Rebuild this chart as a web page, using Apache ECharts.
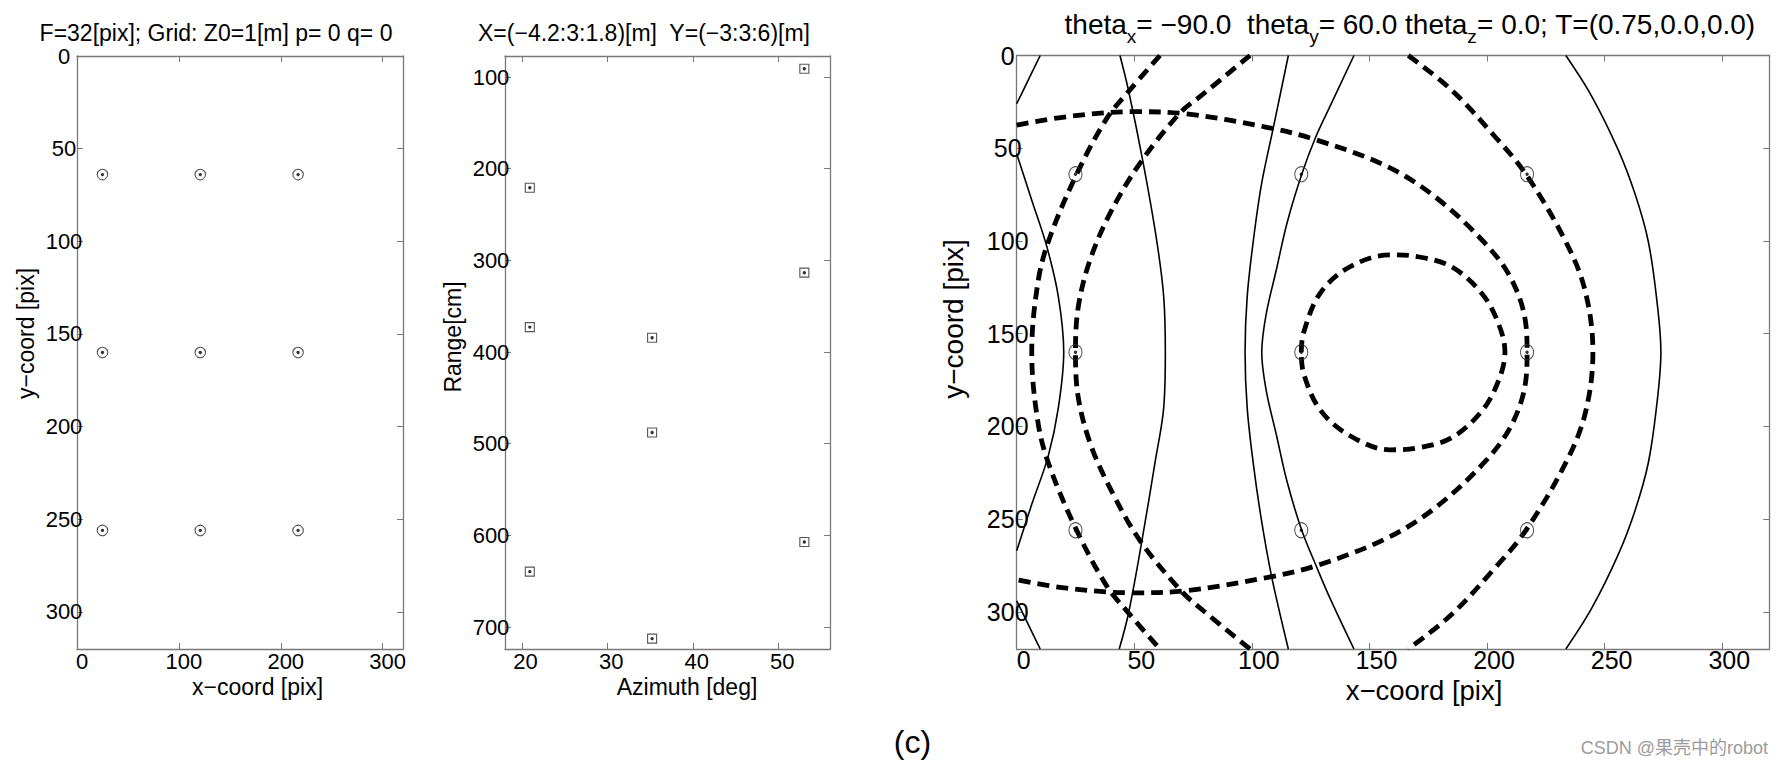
<!DOCTYPE html>
<html><head><meta charset="utf-8">
<script src="https://cdn.jsdelivr.net/npm/echarts@6/dist/echarts.min.js"></script>
<style>html,body{margin:0;padding:0;background:#fff}#c{width:1785px;height:767px}</style>
</head><body><div id="c"></div>
<script>
// ---------------- data ----------------
// panel 1 / panel 3: image grid points (pixel coordinates)
const gridPixX = [25, 121, 217];
const gridPixY = [64, 160, 256];
// panel 2: range / azimuth of the same grid points
const azimuthDeg = [53.0, 20.9, 53.0, 20.9, 35.2, 35.2, 53.0, 20.9, 35.2];
const rangeCm    = [90.9, 220.7, 313.4, 372.8, 384.4, 487.8, 607.3, 639.6, 712.7];

// tick values
const pixTicksX   = [0, 100, 200, 300];
const pixTicksY   = [0, 50, 100, 150, 200, 250, 300];
const azTicks     = [20, 30, 40, 50];
const rangeTicks  = [100, 200, 300, 400, 500, 600, 700];
const projTicks   = [0, 50, 100, 150, 200, 250, 300];

// panel 3: projected grid lines (solid thin)
const solid1 = [[10,0],[5,13],[0,26]];
const solid2 = [[0,53],[6.4,78],[12.8,103],[17.7,130],[20,160],[17.7,190],[13.4,216],[6.4,242],[0,267]];
const solid3 = [[0,294],[5,307],[10,320]];
const solid4 = [[43.9,0],[47.5,18.6],[53.8,58],[59.5,99.5],[62.5,130],[63.2,160],[62.5,190],[59,218],[53.2,262],[47.5,301],[43.6,320]];
const solid5 = [[115.5,0],[109.1,39],[104,70],[100.6,100],[98,130],[97.1,160],[98,190],[100.6,220],[104,250],[108.4,281],[115.5,320]];
const solid6 = [[143.4,0],[133,28],[126.8,45],[121.2,64],[115,90],[110.5,115],[106,140],[104.2,160],[106,180],[110.5,205],[115,230],[121.2,256],[127.6,276],[133,292],[143.4,320]];
const solid7 = [[233.5,0],[244.5,22],[255.8,51],[263,75],[268.5,100],[272,130],[273.9,160],[272,190],[268.5,220],[263,245],[255.8,269],[244.5,298],[233.5,320]];
// panel 3: projected circles (thick dashed)
const dashed1 = [[0,37.5],[21.3,33],[49.6,30.3],[72.3,31.5],[106.3,38.7],[127.6,45.6],[157,59.5],[177.8,76.1],[199.1,101.2],[210.5,121],[216.5,145],[217,160],[216.5,175],[210.5,199],[199.1,219],[177.8,244],[157,260.5],[127.6,275],[106.3,281.5],[72.3,288.5],[49.6,289.7],[21.3,287.2],[0,282.7]];
const dashed2 = [[166.5,0],[184.9,18.6],[203.4,43.8],[216.5,64],[233.1,99.5],[241.6,126.4],[245,160],[241.6,193.6],[233.1,220.5],[216.5,256],[203.4,276.2],[184.9,301.4],[166.5,320]];
const dashed3 = [[121,160],[121.9,149.8],[129,128.2],[141.7,113.9],[158.7,107.5],[170.7,108.5],[184.9,113.9],[197.7,128.2],[204.8,144.4],[207.6,160],[204.8,175.6],[197.7,191.8],[184.9,206.1],[170.7,211.5],[158.7,212.6],[141.7,205],[129,191],[121.9,171],[121,160]];
const dashed4 = [[60.9,0],[47.5,19.5],[38.3,33.9],[25.5,64],[14.2,97.7],[9.2,121],[6.4,160],[9.2,199],[14.2,222.3],[25.5,256],[38.3,286.1],[47.5,300.5],[60.9,320]];
const dashed5 = [[99.2,0],[77.9,22.2],[69.4,31],[52.4,58.1],[39.7,85.1],[31.2,110.2],[26.2,135.4],[25,160],[26.2,184.6],[31.5,210],[40.4,235],[52.4,261.5],[69.4,288],[77.9,297.8],[99.2,320]];

const solidCurves  = [solid1, solid2, solid3, solid4, solid5, solid6, solid7];
const dashedCurves = [dashed1, dashed2, dashed3, dashed4, dashed5];

// ---------------- chart ----------------
const FONT = 'Liberation Sans, Arial, Helvetica, sans-serif';
const AXIS_COLOR = '#787878';

const gridPts = [];
gridPixY.forEach(y => gridPixX.forEach(x => gridPts.push([x, y])));
const polarPts = azimuthDeg.map((a, i) => [a, rangeCm[i]]);

function axes(dim, gridIndex, min, max, ticks, inverse, lab) {
  const common = {
    type: 'value', gridIndex, min, max, inverse,
    axisLine: { show: true, onZero: false, lineStyle: { color: AXIS_COLOR, width: 1.3 } },
    axisTick: { show: true, inside: true, length: 6, customValues: ticks, lineStyle: { color: AXIS_COLOR, width: 1 } },
    splitLine: { show: false }
  };
  const label = { show: true, customValues: ticks, color: '#000', fontFamily: FONT,
      fontSize: lab.size, margin: lab.margin, align: 'center', padding: lab.padding || 0 };
  if (lab.lineHeight) label.lineHeight = lab.lineHeight;
  const main = Object.assign({}, common, {
    position: dim === 'x' ? 'bottom' : 'left', axisLabel: label
  });
  const mirror = Object.assign({}, common, {
    position: dim === 'x' ? 'top' : 'right', axisLabel: { show: false }
  });
  return [main, mirror];
}

const xAxis = [
  ...axes('x', 0, 0, 320, pixTicksX, false, { size: 22, margin: 2, lineHeight: 20, padding: [0, 0, 0, 10] }),
  ...axes('x', 1, 18, 56, azTicks, false, { size: 22, margin: 2, lineHeight: 20, padding: [0, 0, 0, 7] }),
  ...axes('x', 2, 0, 320, projTicks, false, { size: 25, margin: 1, lineHeight: 19, padding: [0, 0, 0, 14] })
];
const yAxis = [
  ...axes('y', 0, 0, 320, pixTicksY, true, { size: 22, margin: 13 }),
  ...axes('y', 1, 77, 724, rangeTicks, true, { size: 22, margin: 14 }),
  ...axes('y', 2, 0, 320, projTicks, true, { size: 25, margin: 9 })
];

function ring(xi, pts, symbol, size, z) {
  return { type: 'scatter', xAxisIndex: xi, yAxisIndex: xi, data: pts, symbol, symbolSize: size,
    itemStyle: { color: 'rgba(0,0,0,0)', borderColor: '#2a2a2a', borderWidth: 1.1 }, z: z || 3, silent: true };
}
function dot(xi, pts, z) {
  return { type: 'scatter', xAxisIndex: xi, yAxisIndex: xi, data: pts, symbol: 'circle', symbolSize: 3.4,
    itemStyle: { color: '#000' }, z: z || 4, silent: true };
}

const series = [
  ring(0, gridPts, 'circle', 10.5), dot(0, gridPts),
  ring(2, polarPts, 'rect', 9), dot(2, polarPts),
];
solidCurves.forEach(c => series.push({
  type: 'line', xAxisIndex: 4, yAxisIndex: 4, data: c, showSymbol: false, symbol: 'none',
  smooth: 0.35, lineStyle: { color: '#000', width: 1.6 }, silent: true, z: 2
}));
dashedCurves.forEach(c => series.push({
  type: 'line', xAxisIndex: 4, yAxisIndex: 4, data: c, showSymbol: false, symbol: 'none',
  smooth: 0.35, lineStyle: { color: '#000', width: 4.8, type: [12, 7], cap: 'butt' }, silent: true, z: 2
}));
series.push(ring(4, gridPts, 'circle', [13, 15], 5), dot(4, gridPts, 6));

const T = (text, x, y, size, opts, lh) => Object.assign({
  type: 'text', x, y, silent: true,
  style: Object.assign({ text, fill: '#000', fontSize: size, fontFamily: FONT, align: 'center', verticalAlign: 'middle' },
    lh ? { lineHeight: lh } : {})
}, opts || {});

const graphic = [
  T('F=32[pix]; Grid: Z0=1[m] p= 0 q= 0', 216, 33, 23),
  T('X=(\u22124.2:3:1.8)[m]  Y=(\u22123:3:6)[m]', 644, 33, 23),
  {
    type: 'text', x: 1410, y: 24, silent: true,
    style: {
      text: '{m|theta}{s|x}{m|= \u221290.0  theta}{s|y}{m|= 60.0 theta}{s|z}{m|= 0.0; T=(0.75,0.0,0.0)}',
      align: 'center', verticalAlign: 'middle',
      rich: {
        m: { fontSize: 28, fontFamily: FONT, fill: '#000', lineHeight: 46 },
        s: { fontSize: 19, fontFamily: FONT, fill: '#000', height: 21, verticalAlign: 'bottom' }
      }
    }
  },
  T('x\u2212coord [pix]', 257.5, 687, 23, null, 20),
  T('y\u2212coord [pix]', 26, 333.5, 23, { rotation: Math.PI / 2 }),
  T('Azimuth [deg]', 687, 687, 23, null, 20),
  T('Range[cm]', 452.5, 337, 23, { rotation: Math.PI / 2 }),
  T('x\u2212coord [pix]', 1424, 690, 27.5, null, 20),
  T('y\u2212coord [pix]', 953.5, 319, 28, { rotation: Math.PI / 2 }),
  T('(c)', 912.5, 741.5, 32),
  { type: 'text', x: 1768, y: 748, silent: true,
    style: { text: 'CSDN @果壳中的robot', fill: '#9c9c9c', fontSize: 18,
      fontFamily: 'Liberation Sans, Noto Sans CJK SC, sans-serif', align: 'right', verticalAlign: 'middle' } }
];

const option = {
  animation: false,
  backgroundColor: '#fff',
  grid: [
    { left: 77, top: 56, width: 326, height: 593, containLabel: false },
    { left: 505, top: 56, width: 325, height: 593, containLabel: false },
    { left: 1016.7, top: 55.5, width: 752.6, height: 593.5, containLabel: false }
  ],
  xAxis, yAxis, series, graphic
};

const chart = echarts.init(document.getElementById('c'), null, { renderer: 'svg' });
chart.setOption(option);
</script>
</body></html>
